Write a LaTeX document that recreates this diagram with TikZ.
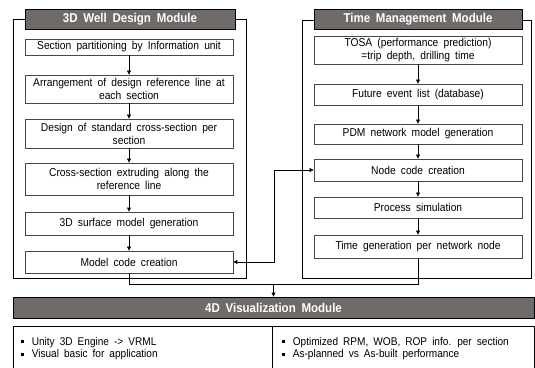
\documentclass[tikz,border=0pt]{standalone}
\usepackage{fontspec}
\setmainfont[FakeStretch=0.9, WordSpace={1.8,1,1}]{Liberation Sans}
\usetikzlibrary{arrows.meta}
\definecolor{hdrfill}{RGB}{112,107,105}
\definecolor{boxline}{RGB}{70,70,70}
\newcommand{\sqbullet}{\raisebox{0.35ex}{\rule{2.6pt}{2.6pt}}\hspace{8pt}}
\tikzset{
  frame/.style={draw=black, line width=0.7pt},
  header/.style={draw=black, line width=0.9pt, fill=hdrfill, text=white,
    font=\fontsize{12.8}{14}\selectfont\bfseries, inner sep=0pt},
  stepbox/.style={draw=boxline, line width=0.9pt, fill=white, minimum width=208pt,
    align=center, inner sep=0pt, font=\fontsize{11.4}{13}\selectfont},
  bullets/.style={anchor=west, font=\fontsize{11.2}{12.5}\selectfont, align=left, inner sep=0pt},
  link/.style={draw=black, line width=0.6pt},
  arr/.style={link, -{Triangle[length=4pt,width=4pt]}},
}
\begin{document}
\begin{tikzpicture}[x=1pt,y=-1pt]
\useasboundingbox (0,0) rectangle (535,367);
\clip (0,0) rectangle (535,367);
\fill[white] (0,0) rectangle (535,367);

% module frames
\draw[frame] (13,19) rectangle (246,278);
\draw[frame] (302,20) rectangle (531,278);

% 3D well design module
\node[header, minimum width=210pt, minimum height=20pt] (hl) at (130,19) {3D Well Design Module};
\node[stepbox, minimum height=16pt] (b1) at (129,47) {Section partitioning by Information unit};
\node[stepbox, minimum height=28pt] (b2) at (129,89) {Arrangement of design reference line at\\each section};
\node[stepbox, minimum height=29pt] (b3) at (129,133.5) {Design of standard cross-section per\\section};
\node[stepbox, minimum height=32pt] (b4) at (129,179) {Cross-section extruding along the\\reference line};
\node[stepbox, minimum height=23pt] (b5) at (129,223.5) {3D surface model generation};
\node[stepbox, minimum height=22pt] (b6) at (129,262) {Model code creation};

% time management module
\node[header, minimum width=208pt, minimum height=20pt] (hr) at (418,19) {Time Management Module};
\node[stepbox, minimum height=28pt] (r1) at (418,50) {TOSA (performance prediction)\\=trip depth, drilling time};
\node[stepbox, minimum height=21pt] (r2) at (418,94.5) {Future event list (database)};
\node[stepbox, minimum height=20pt] (r3) at (418,134) {PDM network model generation};
\node[stepbox, minimum height=22pt] (r4) at (418,170) {Node code creation};
\node[stepbox, minimum height=21pt] (r5) at (418,207.5) {Process simulation};
\node[stepbox, minimum height=23pt] (r6) at (418,246.5) {Time generation per network node};

% flow inside the modules
\foreach \a/\b in {b1/b2,b2/b3,b3/b4,b4/b5,b5/b6,r1/r2,r2/r3,r3/r4,r4/r5,r5/r6}
  \draw[arr] (\a.south) -- (\b.north);

% link between node code and model code
\coordinate (jx) at (274,0);
\draw[link, {Triangle[length=4pt,width=4pt]}-{Triangle[length=4pt,width=4pt]}]
  (r4.west) -| (jx |- b6.east) -- (b6.east);

% 4D visualization module
\node[header, minimum width=521pt, minimum height=21pt] (hv) at (273.5,307.5) {4D Visualization Module};
\draw[frame] (13,326) rectangle (534,380);
\draw[frame] (272,326) -- (272,380);

% outputs merging into the visualization module
\coordinate (mj) at (0,284);
\draw[link] (b6.south) |- (mj -| r6.south) -- (r6.south);
\draw[arr] (hv.north |- mj) -- (hv.north);

% bullet lists
\node[bullets] (lv) at (21,348.5)
  {\sqbullet Unity 3D Engine -> VRML\\\sqbullet Visual basic for application};
\node[bullets] (rv) at (282,348.5)
  {\sqbullet Optimized RPM, WOB, ROP info. per section\\\sqbullet As-planned vs As-built performance};
\end{tikzpicture}
\end{document}
